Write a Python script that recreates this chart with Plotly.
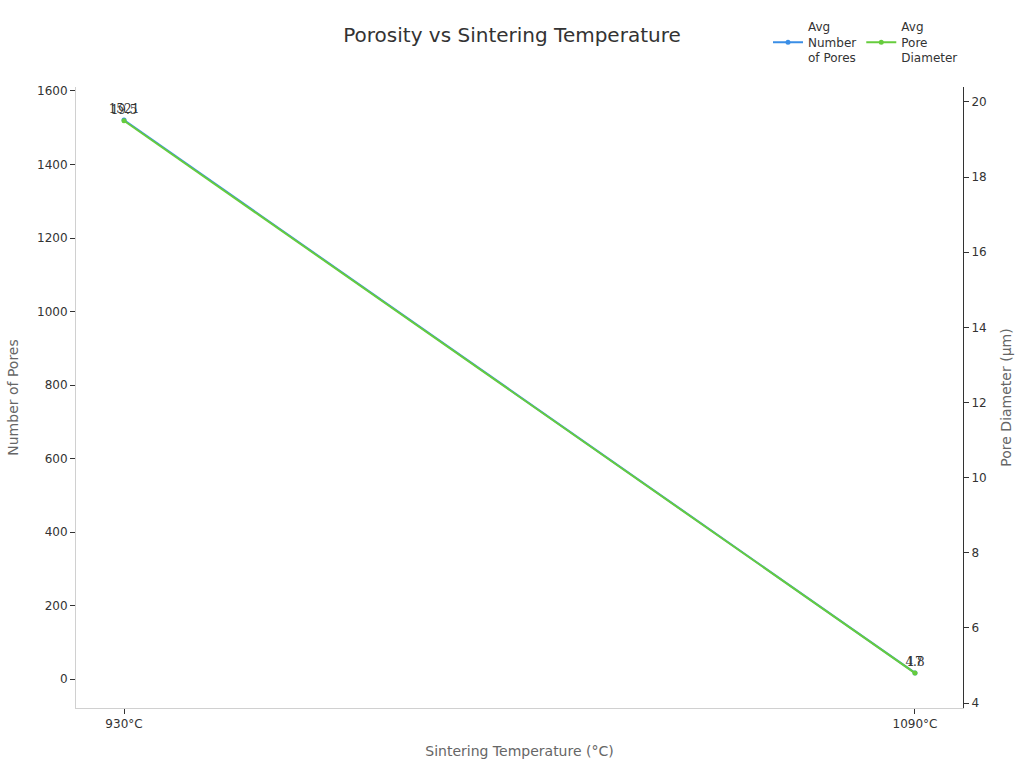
import plotly.graph_objects as go

temps = ["930°C", "1090°C"]
avg_pores = [1521, 17]
avg_diameter = [19.5, 4.8]

blue = "#3a8ee6"
green = "#66cc3d"
font = "DejaVu Sans"

fig = go.Figure()
fig.add_trace(go.Scatter(
    x=temps, y=avg_pores, name="Avg<br>Number<br>of Pores",
    mode="lines+markers+text", text=[str(v) for v in avg_pores],
    textposition="top center", textfont=dict(family="DejaVu Serif", size=12, color="#333333"),
    line=dict(color=blue, width=2), marker=dict(size=5, color=blue), yaxis="y"))
fig.add_trace(go.Scatter(
    x=temps, y=avg_diameter, name="Avg<br>Pore<br>Diameter",
    mode="lines+markers+text", text=[str(v) for v in avg_diameter],
    textposition="top center", textfont=dict(family="DejaVu Serif", size=12, color="#333333"),
    line=dict(color=green, width=2), marker=dict(size=5, color=green), yaxis="y2"))

fig.update_layout(
    width=1024, height=768,
    margin=dict(l=76, r=61, t=82, b=60),
    paper_bgcolor="white", plot_bgcolor="white",
    font=dict(family=font, size=12, color="#333333"),
    title=dict(text="Porosity vs Sintering Temperature", x=0.5, xanchor="center",
               y=0.954, yanchor="middle", font=dict(size=20, color="#333333")),
    legend=dict(orientation="h", x=1.0, xanchor="right", yref="container", y=0.945, yanchor="middle",
                font=dict(size=12, color="#333333"), bgcolor="rgba(0,0,0,0)"),
    showlegend=True,
    xaxis=dict(type="category", range=[-0.0607, 1.0607], showgrid=False,
               showline=True, linecolor="#d0d0d0", linewidth=1,
               ticks="outside", ticklen=5, tickcolor="#333333",
               title=dict(text="Sintering Temperature (°C)", font=dict(size=14, color="#666666")),
               tickfont=dict(size=12, color="#333333"), zeroline=False),
    yaxis=dict(range=[-78.5, 1611], showgrid=False, zeroline=False,
               showline=True, linecolor="#d0d0d0", linewidth=1,
               ticks="outside", ticklen=5, tickcolor="#333333",
               tickvals=[0, 200, 400, 600, 800, 1000, 1200, 1400, 1600],
               title=dict(text="Number of Pores", font=dict(size=14, color="#666666")),
               tickfont=dict(size=12, color="#333333")),
    yaxis2=dict(range=[3.87, 20.4], overlaying="y", side="right", showgrid=False, zeroline=False,
                showline=True, linecolor="#333333", linewidth=1,
                ticks="outside", ticklen=5, tickcolor="#333333",
                tickvals=[4, 6, 8, 10, 12, 14, 16, 18, 20],
                title=dict(text="Pore Diameter (µm)", font=dict(size=14, color="#666666")),
                tickfont=dict(size=12, color="#333333")),
)

fig.write_html("out.html")
